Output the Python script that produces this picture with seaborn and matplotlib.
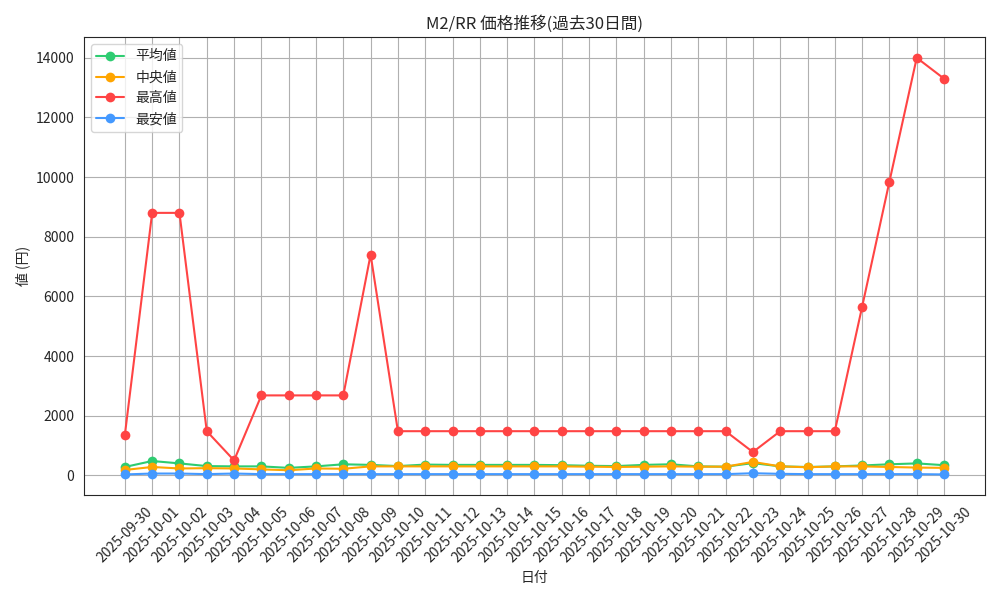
import matplotlib
matplotlib.use('Agg')
import matplotlib.pyplot as plt
import pandas as pd
import seaborn as sns

dates = pd.date_range('2025-09-30', '2025-10-30').strftime('%Y-%m-%d').tolist()
mean_vals = [280, 480, 400, 310, 300, 300, 250, 300, 370, 350, 310, 360, 350, 350, 350, 350,
             340, 320, 310, 350, 370, 300, 290, 410, 300, 280, 300, 330, 370, 400, 340]
median_vals = [180, 280, 230, 240, 230, 200, 170, 230, 220, 300, 300, 300, 300, 300, 300, 300,
               300, 290, 280, 290, 300, 290, 290, 450, 300, 270, 300, 300, 280, 260, 250]
max_vals = [1350, 8800, 8800, 1480, 500, 2680, 2680, 2680, 2680, 7400, 1480, 1480, 1480, 1480,
            1480, 1480, 1480, 1480, 1480, 1480, 1480, 1480, 1480, 780, 1480, 1480, 1480, 5650,
            9850, 14000, 13300]
min_vals = [30, 60, 60, 40, 60, 40, 40, 40, 40, 40, 40, 40, 40, 40, 40, 40,
            40, 40, 40, 40, 40, 40, 40, 70, 50, 40, 40, 40, 40, 40, 30]

sns.set_style('white')
plt.rcParams['font.family'] = ['Noto Sans CJK JP', 'DejaVu Sans']

df = pd.DataFrame({'日付': dates, '平均値': mean_vals, '中央値': median_vals,
                   '最高値': max_vals, '最安値': min_vals})
long = df.melt(id_vars='日付', var_name='series', value_name='値')
palette = {'平均値': '#2ecc71', '中央値': '#ffa500', '最高値': '#ff4444', '最安値': '#4499ff'}

fig, ax = plt.subplots(figsize=(10, 6), dpi=100)
sns.lineplot(data=long, x='日付', y='値', hue='series', palette=palette, marker='o',
             markersize=7, markeredgewidth=0, linewidth=1.5, sort=False, ax=ax)
ax.grid(True, color='#b0b0b0')
ax.set_title('M2/RR 価格推移(過去30日間)')
ax.set_xlabel('日付')
ax.set_ylabel('値 (円)')
plt.xticks(rotation=45)
ax.legend(title=None, loc='upper left')
plt.tight_layout()
plt.savefig('out.png')
